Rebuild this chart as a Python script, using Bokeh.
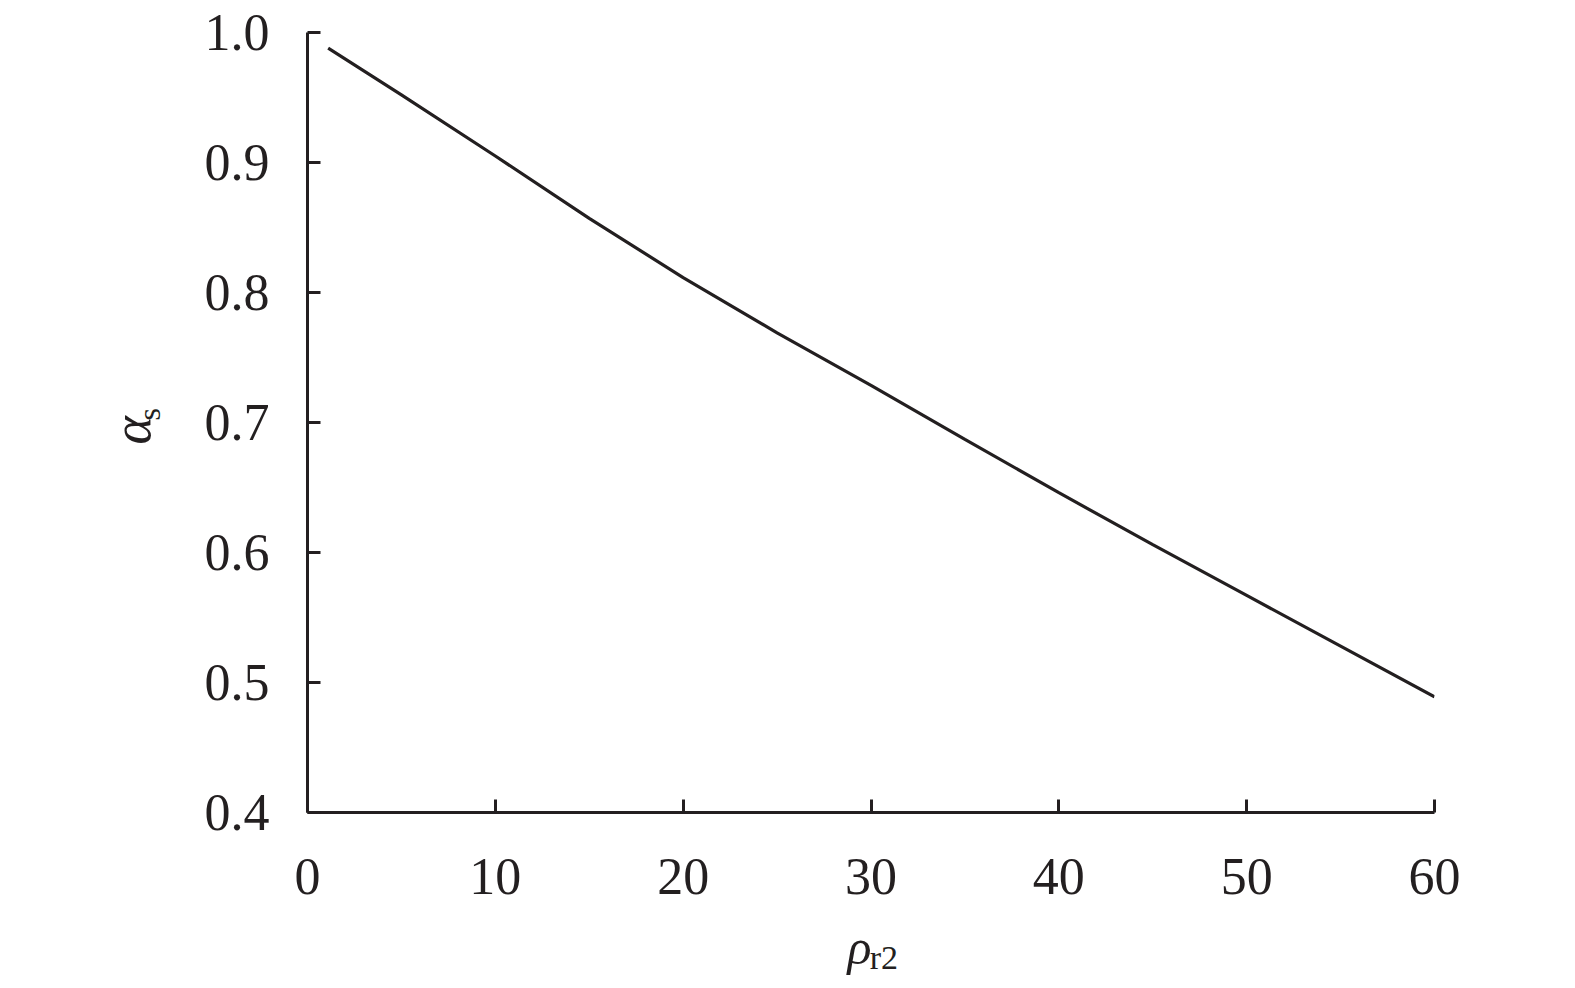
import math
from bokeh.plotting import figure
from bokeh.models import Range1d, FixedTicker, Label, CustomJSTickFormatter
from bokeh.embed import file_html
from bokeh.resources import INLINE

# data
rho_r2 = [1.1, 5, 10, 15, 20, 25, 30, 35, 40, 45, 50, 55, 60]
alpha_s = [0.988, 0.952, 0.905, 0.857, 0.8115, 0.769, 0.7285, 0.687, 0.646, 0.606, 0.567, 0.528, 0.489]

x_ticks = [0, 10, 20, 30, 40, 50, 60]
y_ticks = [0.4, 0.5, 0.6, 0.7, 0.8, 0.9, 1.0]

INK = "#231f20"
FONT = "Liberation Serif"

p = figure(width=1567, height=980, output_backend="svg", toolbar_location=None,
           x_range=Range1d(0, 60), y_range=Range1d(0.4, 1.0),
           min_border_left=307, min_border_right=133, min_border_top=32, min_border_bottom=168)
p.outline_line_color = None
p.xgrid.visible = False
p.ygrid.visible = False
p.background_fill_color = "white"
p.border_fill_color = "white"

p.line(rho_r2, alpha_s, line_color=INK, line_width=3.2)

for ax in (p.xaxis[0], p.yaxis[0]):
    ax.axis_line_color = INK
    ax.axis_line_width = 3
    ax.major_tick_line_color = INK
    ax.major_tick_line_width = 3
    ax.major_tick_in = 13
    ax.major_tick_out = 0
    ax.minor_tick_line_color = None
    ax.major_label_text_font = FONT
    ax.major_label_text_font_size = "52px"
    ax.major_label_text_color = INK

p.xaxis[0].ticker = FixedTicker(ticks=x_ticks)
p.yaxis[0].ticker = FixedTicker(ticks=y_ticks)
p.yaxis[0].formatter = CustomJSTickFormatter(code="return tick.toFixed(1);")
p.xaxis[0].major_label_standoff = 46
p.yaxis[0].major_label_standoff = 38

common = dict(text_font=FONT, text_color=INK, text_align="left",
              text_baseline="alphabetic")

# Axis titles are Labels positioned in data units; they are hosted in the wide
# left side panel so that they are not clipped to the plot frame.
# y-axis label: alpha_s (rotated)
p.add_layout(Label(x=-9.35, y=0.6831, text="α", angle=math.pi / 2,
                   text_font_style="italic", text_font_size="54px", **common), "left")
p.add_layout(Label(x=-8.46, y=0.7015, text="s", angle=math.pi / 2,
                   text_font_size="32px", **common), "left")

# x-axis label: rho_r2
p.add_layout(Label(x=28.75, y=0.2962, text="ρ",
                   text_font_style="italic", text_font_size="50px", **common), "left")
p.add_layout(Label(x=29.93, y=0.2885, text="r2",
                   text_font_size="34px", **common), "left")

open("out.html", "w").write(file_html(p, INLINE))
